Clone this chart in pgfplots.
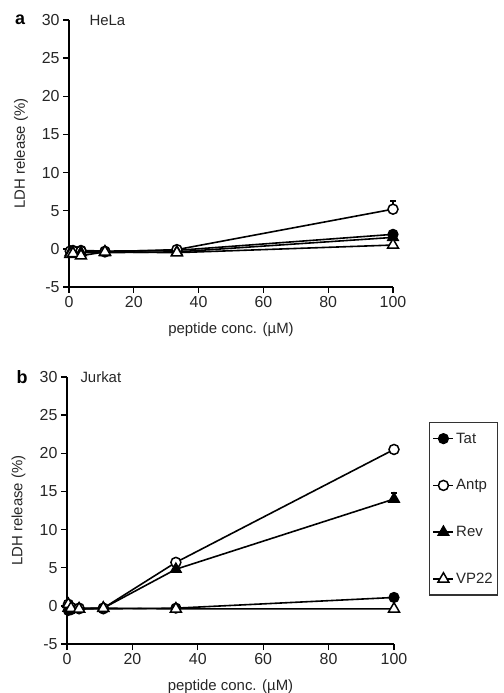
\documentclass[border=0pt]{standalone}
\usepackage{fontspec}
\setmainfont{Liberation Sans}
\usepackage{pgfplots}
\pgfplotsset{compat=1.18}
\pgfplotsset{
  myax/.style={
    scale only axis, clip=false,
    xmin=0, xmax=100, ymin=-5, ymax=30,
    axis x line*=bottom, axis y line*=left,
    xtick={0,20,...,100}, ytick={-5,0,...,30},
    tick align=outside, major tick length=6bp,
    axis line style={line width=1.5pt, black},
    every tick/.style={line width=1.4pt, black},
    tick label style={font=\fontsize{16}{18}\selectfont, text=black!85},
    label style={font=\fontsize{15}{17}\selectfont, text=black!85},
    /pgf/number format/assume math mode=true,
    xlabel={peptide conc. (µM)},
    ylabel={LDH release (\%)},
    xlabel style={at={(axis description cs:0.5,-0.158)}, anchor=center},
    ylabel style={at={(axis description cs:-0.148,0.5)}, anchor=center},
    every axis plot/.append style={line width=1.6pt, black},
    legend image code/.code={\draw[mark repeat=2,mark phase=2] plot coordinates {(0bp,0bp) (10bp,0bp) (20bp,0bp)};},
  },
  tat/.style={mark=*, mark size=5bp, mark options={fill=black, line width=1.2pt, solid}},
  antp/.style={mark=*, mark size=5bp, mark options={fill=white, line width=1.5pt, solid}},
  rev/.style={mark=triangle*, mark size=6.3bp, mark options={fill=black, line width=1.2pt, solid}},
  vp/.style={mark=triangle*, mark size=6.3bp, mark options={fill=white, line width=1.5pt, solid}},
  errs/.style={error bars/.cd, y dir=plus, y explicit, error mark options={rotate=90, mark size=3bp, line width=1.5pt}, error bar style={line width=1.5pt}},
}
\begin{document}
\begin{tikzpicture}
\path[use as bounding box] (0,0) rectangle (504bp,693bp);
% ---------- a: HeLa ----------
\begin{axis}[myax, at={(69bp,406bp)}, anchor=south west, width=324bp, height=267bp]
\addplot[tat] coordinates {(0.41,-0.3) (1.23,-0.2) (3.7,-0.2) (11.1,-0.3) (33.3,-0.2) (100,1.9)};
\addplot[antp, errs] coordinates {(0.41,-0.3) (1.23,-0.3) (3.7,-0.3) (11.1,-0.4) (33.3,-0.1) (100,5.2) +- (0,1.1)};
\addplot[rev] coordinates {(0.41,-0.5) (1.23,-0.6) (3.7,-0.5) (11.1,-0.5) (33.3,-0.4) (100,1.5)};
\addplot[vp] coordinates {(0.41,-0.7) (1.23,-0.6) (3.7,-0.9) (11.1,-0.4) (33.3,-0.5) (100,0.5)};
\node[anchor=west, font=\fontsize{15}{17}\selectfont, text=black!85] at (rel axis cs:0,1) [xshift=17bp] {HeLa};
\node[anchor=center, font=\fontsize{18}{20}\selectfont\bfseries] at (rel axis cs:0,1) [xshift=-49bp] {a};
\end{axis}
% ---------- b: Jurkat ----------
\begin{axis}[myax, at={(67bp,49bp)}, anchor=south west, width=327bp, height=267bp,
  legend style={at={(axis description cs:1.107,0.831)}, anchor=north west,
    draw=black!80, line width=1.3pt, inner xsep=3bp, inner ysep=8bp,
    row sep=31bp, font=\fontsize{15}{17}\selectfont, text=black!85,
    legend cell align=left},
  legend columns=1]
\addplot[tat] coordinates {(0.41,-0.6) (1.23,-0.5) (3.7,-0.4) (11.1,-0.4) (33.3,-0.3) (100,1.1)};
\addlegendentry{Tat}
\addplot[antp] coordinates {(0.41,0.2) (1.23,-0.2) (3.7,-0.3) (11.1,-0.3) (33.3,5.7) (100,20.5)};
\addlegendentry{Antp}
\addplot[rev, errs] coordinates {(0.41,-0.3) (1.23,-0.4) (3.7,-0.4) (11.1,-0.3) (33.3,4.8) (100,14.0) +- (0,0.8)};
\addlegendentry{Rev}
\addplot[vp] coordinates {(0.41,0.2) (1.23,-0.3) (3.7,-0.4) (11.1,-0.3) (33.3,-0.4) (100,-0.4)};
\addlegendentry{VP22}
\node[anchor=west, font=\fontsize{15}{17}\selectfont, text=black!85] at (rel axis cs:0,1) [xshift=10bp] {Jurkat};
\node[anchor=center, font=\fontsize{18}{20}\selectfont\bfseries] at (rel axis cs:0,1) [xshift=-45bp] {b};
\end{axis}
\end{tikzpicture}
\end{document}
